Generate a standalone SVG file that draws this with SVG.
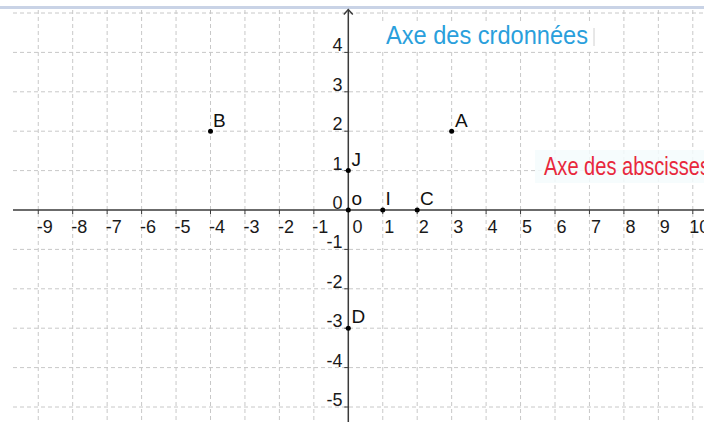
<svg xmlns="http://www.w3.org/2000/svg" width="704" height="422" viewBox="0 0 704 422">
<style>
.grid line{stroke:#c8c8c8;stroke-width:1;stroke-dasharray:4,3;fill:none}
.axis{stroke:#3a3a3a;stroke-width:1.5;fill:none}
.tick{stroke:#3a3a3a;stroke-width:1}
.num{font-family:"Liberation Sans",Arial,sans-serif;font-size:18px;fill:#1a1a1a}
.xl{text-anchor:middle}
.yl{text-anchor:end}
.lbl{font-family:"Liberation Sans",Arial,sans-serif;font-size:19px;fill:#111}
.dot{fill:#000}
</style>
<rect x="0" y="0" width="704" height="422" fill="#ffffff"/>
<rect x="0" y="6" width="704" height="3" fill="#c9d3e6"/>
<g class="grid">
<line x1="38.25" y1="10" x2="38.25" y2="422"/>
<line x1="72.7" y1="10" x2="72.7" y2="422"/>
<line x1="107.15" y1="10" x2="107.15" y2="422"/>
<line x1="141.6" y1="10" x2="141.6" y2="422"/>
<line x1="176.05" y1="10" x2="176.05" y2="422"/>
<line x1="210.5" y1="10" x2="210.5" y2="422"/>
<line x1="244.95" y1="10" x2="244.95" y2="422"/>
<line x1="279.4" y1="10" x2="279.4" y2="422"/>
<line x1="313.85" y1="10" x2="313.85" y2="422"/>
<line x1="382.75" y1="10" x2="382.75" y2="422"/>
<line x1="417.2" y1="10" x2="417.2" y2="422"/>
<line x1="451.65" y1="10" x2="451.65" y2="422"/>
<line x1="486.1" y1="10" x2="486.1" y2="422"/>
<line x1="520.55" y1="10" x2="520.55" y2="422"/>
<line x1="555" y1="10" x2="555" y2="422"/>
<line x1="589.45" y1="10" x2="589.45" y2="422"/>
<line x1="623.9" y1="10" x2="623.9" y2="422"/>
<line x1="658.35" y1="10" x2="658.35" y2="422"/>
<line x1="692.8" y1="10" x2="692.8" y2="422"/>
<line x1="13" y1="13" x2="704" y2="13"/>
<line x1="13" y1="52.4" x2="704" y2="52.4"/>
<line x1="13" y1="91.8" x2="704" y2="91.8"/>
<line x1="13" y1="131.2" x2="704" y2="131.2"/>
<line x1="13" y1="170.6" x2="704" y2="170.6"/>
<line x1="13" y1="249.4" x2="704" y2="249.4"/>
<line x1="13" y1="288.8" x2="704" y2="288.8"/>
<line x1="13" y1="328.2" x2="704" y2="328.2"/>
<line x1="13" y1="367.6" x2="704" y2="367.6"/>
<line x1="13" y1="407" x2="704" y2="407"/>
</g>
<g id="label-ordonnees">
<rect x="381" y="23" width="215" height="28" fill="#ffffff"/>
<line x1="594" y1="28" x2="594" y2="46" stroke="#d0d0d0" stroke-width="1"/>
<text x="386" y="44" font-family="'Liberation Sans',Arial,sans-serif" font-size="25" fill="#2a9fdc" textLength="202" lengthAdjust="spacingAndGlyphs">Axe des crdonnées</text>
</g>
<g id="label-abscisses">
<rect x="535" y="150" width="169" height="33" fill="#f4fbfd" fill-opacity="0.85"/>
<text x="544" y="175" font-family="'Liberation Sans',Arial,sans-serif" font-size="26" fill="#e8283c" textLength="166" lengthAdjust="spacingAndGlyphs">Axe des abscisses</text>
</g>
<g id="connectors">
<line class="axis" x1="13" y1="210" x2="704" y2="210"/>
<line class="axis" x1="348.3" y1="9.5" x2="348.3" y2="422"/>
<polyline class="axis" points="343.8,14.5 348.3,9.5 352.8,14.5"/>
<g class="tick">
<line x1="38.25" y1="210" x2="38.25" y2="214"/>
<line x1="72.7" y1="210" x2="72.7" y2="214"/>
<line x1="107.15" y1="210" x2="107.15" y2="214"/>
<line x1="141.6" y1="210" x2="141.6" y2="214"/>
<line x1="176.05" y1="210" x2="176.05" y2="214"/>
<line x1="210.5" y1="210" x2="210.5" y2="214"/>
<line x1="244.95" y1="210" x2="244.95" y2="214"/>
<line x1="279.4" y1="210" x2="279.4" y2="214"/>
<line x1="313.85" y1="210" x2="313.85" y2="214"/>
<line x1="382.75" y1="210" x2="382.75" y2="214"/>
<line x1="417.2" y1="210" x2="417.2" y2="214"/>
<line x1="451.65" y1="210" x2="451.65" y2="214"/>
<line x1="486.1" y1="210" x2="486.1" y2="214"/>
<line x1="520.55" y1="210" x2="520.55" y2="214"/>
<line x1="555" y1="210" x2="555" y2="214"/>
<line x1="589.45" y1="210" x2="589.45" y2="214"/>
<line x1="623.9" y1="210" x2="623.9" y2="214"/>
<line x1="658.35" y1="210" x2="658.35" y2="214"/>
<line x1="692.8" y1="210" x2="692.8" y2="214"/>
<line x1="344.3" y1="52.4" x2="348.3" y2="52.4"/>
<line x1="344.3" y1="91.8" x2="348.3" y2="91.8"/>
<line x1="344.3" y1="131.2" x2="348.3" y2="131.2"/>
<line x1="344.3" y1="170.6" x2="348.3" y2="170.6"/>
<line x1="344.3" y1="249.4" x2="348.3" y2="249.4"/>
<line x1="344.3" y1="288.8" x2="348.3" y2="288.8"/>
<line x1="344.3" y1="328.2" x2="348.3" y2="328.2"/>
<line x1="344.3" y1="367.6" x2="348.3" y2="367.6"/>
<line x1="344.3" y1="407" x2="348.3" y2="407"/>
</g>
</g>
<g id="x-labels" class="num xl">
<text x="44.75" y="233">-9</text>
<text x="79.2" y="233">-8</text>
<text x="113.65" y="233">-7</text>
<text x="148.1" y="233">-6</text>
<text x="182.55" y="233">-5</text>
<text x="217" y="233">-4</text>
<text x="251.45" y="233">-3</text>
<text x="285.9" y="233">-2</text>
<text x="320.35" y="233">-1</text>
<text x="357.5" y="233">0</text>
<text x="389.25" y="233">1</text>
<text x="423.7" y="233">2</text>
<text x="458.15" y="233">3</text>
<text x="492.6" y="233">4</text>
<text x="527.05" y="233">5</text>
<text x="561.5" y="233">6</text>
<text x="595.95" y="233">7</text>
<text x="630.4" y="233">8</text>
<text x="664.85" y="233">9</text>
<text x="699.3" y="233">10</text>
</g>
<g id="y-labels" class="num yl">
<text x="342.5" y="51.4">4</text>
<text x="342.5" y="90.8">3</text>
<text x="342.5" y="130.2">2</text>
<text x="342.5" y="169.6">1</text>
<text x="342.5" y="209">0</text>
<text x="342.5" y="248.4">-1</text>
<text x="342.5" y="287.8">-2</text>
<text x="342.5" y="327.2">-3</text>
<text x="342.5" y="366.6">-4</text>
<text x="342.5" y="406">-5</text>
</g>
<g id="point-B"><circle class="dot" cx="210.5" cy="131.2" r="2.5"/><text class="lbl" x="213" y="126.5">B</text></g>
<g id="point-A"><circle class="dot" cx="451.65" cy="131.2" r="2.5"/><text class="lbl" x="455" y="126.5">A</text></g>
<g id="point-J"><circle class="dot" cx="348.3" cy="170.6" r="2.5"/><text class="lbl" x="351.5" y="165.5">J</text></g>
<g id="point-O"><circle class="dot" cx="348.3" cy="210" r="2.5"/><text class="lbl" x="351.5" y="204.5">o</text></g>
<g id="point-I"><circle class="dot" cx="382.75" cy="210" r="2.5"/><text class="lbl" x="385.5" y="205">I</text></g>
<g id="point-C"><circle class="dot" cx="417.2" cy="210" r="2.5"/><text class="lbl" x="420" y="205">C</text></g>
<g id="point-D"><circle class="dot" cx="348.3" cy="328.2" r="2.5"/><text class="lbl" x="351.5" y="323">D</text></g>
</svg>
